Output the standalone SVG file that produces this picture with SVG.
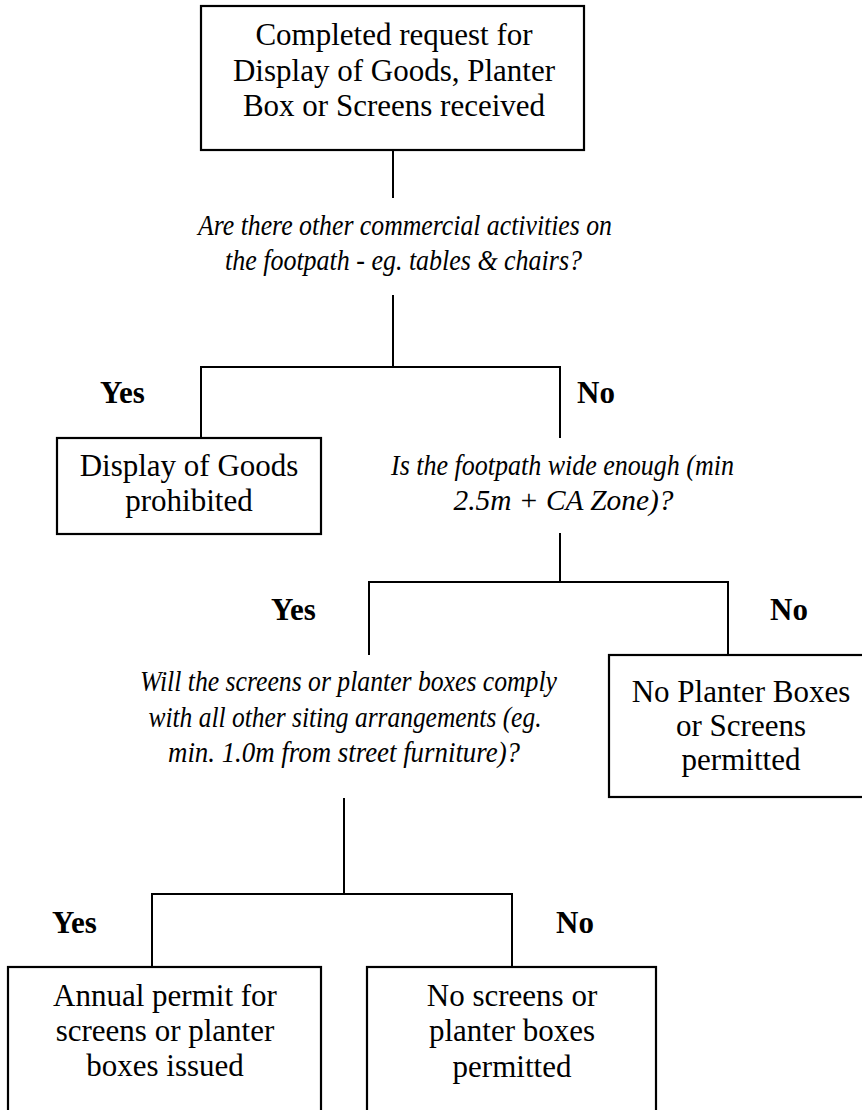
<svg xmlns="http://www.w3.org/2000/svg" width="862" height="1110" viewBox="0 0 862 1110">
<style>
  .box { fill: #fff; stroke: #000; stroke-width: 2.2; }
  .conn { fill: none; stroke: #000; stroke-width: 2; }
  .t { font-family: "Liberation Serif", "Times New Roman", serif; font-size: 31px; fill: #000; text-anchor: middle; }
  .q { font-family: "Liberation Serif", "Times New Roman", serif; font-size: 29px; font-style: italic; fill: #000; text-anchor: middle; }
  .lbl { font-family: "Liberation Serif", "Times New Roman", serif; font-size: 31px; font-weight: bold; fill: #000; }
</style>
<rect width="862" height="1110" fill="#fff"/>
<g id="connectors">
  <path class="conn" d="M393 150 V198"/>
  <path class="conn" d="M393 295 V367"/>
  <path class="conn" d="M201 438 V367 H560 V438"/>
  <path class="conn" d="M560 533 V582"/>
  <path class="conn" d="M369 655 V582 H728 V655"/>
  <path class="conn" d="M344 798 V894"/>
  <path class="conn" d="M152 967 V894 H512 V967"/>
</g>
<g id="labels">
  <text class="lbl" x="100" y="403">Yes</text>
  <text class="lbl" x="577" y="403">No</text>
  <text class="lbl" x="271" y="620">Yes</text>
  <text class="lbl" x="770" y="620">No</text>
  <text class="lbl" x="52" y="933">Yes</text>
  <text class="lbl" x="556" y="933">No</text>
</g>
<g id="start">
  <rect class="box" x="201" y="6" width="383" height="144"/>
  <text class="t" x="394" y="45">Completed request for</text>
  <text class="t" x="394" y="81">Display of Goods, Planter</text>
  <text class="t" x="394" y="116">Box or Screens received</text>
</g>
<g id="q1">
  <text class="q" x="405" y="235" textLength="414" lengthAdjust="spacingAndGlyphs">Are there other commercial activities on</text>
  <text class="q" x="403.5" y="270" textLength="357" lengthAdjust="spacingAndGlyphs">the footpath - eg. tables &amp; chairs?</text>
</g>
<g id="prohibited">
  <rect class="box" x="57" y="438" width="264" height="96"/>
  <text class="t" x="189" y="476">Display of Goods</text>
  <text class="t" x="189" y="511">prohibited</text>
</g>
<g id="q2">
  <text class="q" x="562.5" y="475" textLength="343" lengthAdjust="spacingAndGlyphs">Is the footpath wide enough (min</text>
  <text class="q" x="563.5" y="510" textLength="220" lengthAdjust="spacingAndGlyphs">2.5m + CA Zone)?</text>
</g>
<g id="no-planter">
  <rect class="box" x="609" y="655" width="270" height="142"/>
  <text class="t" x="741" y="702">No Planter Boxes</text>
  <text class="t" x="741" y="736">or Screens</text>
  <text class="t" x="741" y="770">permitted</text>
</g>
<g id="q3">
  <text class="q" x="348.5" y="691" textLength="417" lengthAdjust="spacingAndGlyphs">Will the screens or planter boxes comply</text>
  <text class="q" x="345" y="727" textLength="393" lengthAdjust="spacingAndGlyphs">with all other siting arrangements (eg.</text>
  <text class="q" x="344" y="762" textLength="352" lengthAdjust="spacingAndGlyphs">min. 1.0m from street furniture)?</text>
</g>
<g id="permit">
  <rect class="box" x="8" y="967" width="313" height="170"/>
  <text class="t" x="165" y="1006">Annual permit for</text>
  <text class="t" x="165" y="1041">screens or planter</text>
  <text class="t" x="165" y="1076">boxes issued</text>
</g>
<g id="no-screens">
  <rect class="box" x="367" y="967" width="289" height="170"/>
  <text class="t" x="512" y="1006">No screens or</text>
  <text class="t" x="512" y="1041">planter boxes</text>
  <text class="t" x="512" y="1077">permitted</text>
</g>
</svg>
